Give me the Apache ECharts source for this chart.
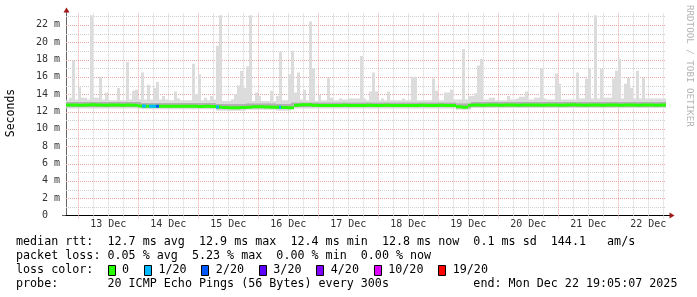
<!DOCTYPE html>
<html><head><meta charset="utf-8">
<script src="https://cdn.jsdelivr.net/npm/echarts@6/dist/echarts.min.js"></script>
<style>html,body{margin:0;padding:0;background:#fff}#c{width:697px;height:297px}</style>
</head><body><div id="c"></div>
<script>
// ---------------- data ----------------
// time is measured in hours since Fri 12 Dec 2025 00:00
const endHour = 240 + 19 + 5 / 60 + 7 / 3600;   // Mon Dec 22 19:05:07
const spanHours = 240;
const startHour = endHour - spanHours;

const dayLabels = ['13 Dec','14 Dec','15 Dec','16 Dec','17 Dec','18 Dec','19 Dec','20 Dec','21 Dec','22 Dec'];
const yTickValues = [0,2,4,6,8,10,12,14,16,18,20,22];

// upper edge of smoke (ms), 72-minute bins
const smokeHigh = [
 13.3,13.6,17.9,13.4,14.8,13.6,13.6,13.4,23.1,13.6,
 13.6,16.0,13.4,14.2,13.3,13.3,13.3,14.7,13.3,13.3,
 17.7,13.4,14.4,14.5,13.4,16.5,13.4,15.1,13.4,14.7,
 15.4,13.4,13.8,13.4,13.3,13.3,14.3,13.5,13.3,13.3,
 13.3,13.3,17.5,14.0,16.3,13.3,13.6,13.3,13.8,13.4,
 19.6,23.1,13.2,13.2,13.2,13.4,14.0,15.0,16.7,14.7,
 17.2,23.1,13.2,14.2,13.8,13.2,13.2,13.2,14.4,13.2,
 13.8,18.9,13.3,13.3,16.3,19.0,14.2,16.5,13.4,14.5,
 13.3,22.4,17.0,13.2,13.9,13.3,13.3,15.9,13.6,13.3,
 13.3,13.5,13.4,13.4,13.5,13.5,13.5,13.5,18.4,13.5,
 13.3,14.3,16.5,14.3,13.3,13.5,13.3,14.3,13.3,13.3,
 13.3,13.3,13.5,13.3,13.3,16.0,16.0,13.3,13.3,13.3,
 13.3,13.3,15.8,14.4,13.3,13.3,14.2,14.2,14.5,13.4,
 13.4,13.4,19.2,13.4,13.8,13.8,14.1,17.3,18.1,13.4,
 13.4,13.6,13.6,13.3,13.3,13.3,13.3,13.8,13.4,13.4,
 13.5,13.7,13.7,14.3,13.4,13.4,13.6,13.6,17.0,13.5,
 13.4,13.4,13.4,16.4,15.2,13.4,13.4,13.4,13.4,13.4,
 16.5,13.5,13.5,15.8,17.0,13.5,23.1,13.5,16.9,13.6,
 13.6,13.6,15.8,16.7,18.1,13.5,15.2,15.9,14.7,13.5,
 16.7,13.5,15.9,13.5,13.5,13.5,13.5,13.5,13.5,13.5
];
// 6-hour bins: lower smoke edge and dense core of the smoke
const smokeLow = [
 12.35,12.35,12.35,12.35,12.35,12.25,12.25,12.25,12.25,12.25,
 12.1,12.1,12.2,12.2,12.1,12.35,12.35,12.35,12.35,12.35,
 12.35,12.35,12.35,12.35,12.35,12.35,12.2,12.4,12.4,12.4,
 12.4,12.4,12.4,12.4,12.4,12.4,12.4,12.4,12.4,12.4
];
const coreLow = [
 12.5,12.5,12.5,12.5,12.5,12.42,12.42,12.42,12.42,12.42,
 12.25,12.25,12.35,12.35,12.28,12.5,12.5,12.5,12.5,12.5,
 12.5,12.5,12.5,12.5,12.5,12.5,12.35,12.52,12.52,12.52,
 12.52,12.52,12.52,12.52,12.52,12.52,12.52,12.52,12.52,12.52
];
const coreHigh = [
 13.1,13.1,13.1,13.1,13.1,13.0,13.0,13.0,13.0,13.0,
 12.88,12.88,12.95,12.95,12.88,13.08,13.08,13.08,13.08,13.08,
 13.08,13.08,13.08,13.08,13.08,13.08,12.95,13.1,13.1,13.1,
 13.1,13.1,13.1,13.1,13.1,13.1,13.1,13.1,13.1,13.1
];
// median rtt (ms), 144-minute bins
const medianRtt = [
 12.75,12.75,12.72,12.75,12.78,12.75,12.72,12.75,12.75,12.72,12.75,12.72,
 12.65,12.6,12.6,12.62,12.6,12.62,12.6,12.6,12.62,12.6,12.58,12.6,12.58,12.52,
 12.45,12.42,12.42,12.45,
 12.5,12.55,12.55,12.52,12.5,
 12.48,12.45,12.42,
 12.72,12.78,12.78,12.72,
 12.7,12.68,12.7,12.7,12.72,12.7,12.68,12.7,12.72,12.7,12.7,12.72,12.7,12.7,12.68,12.7,12.7,12.72,12.7,12.7,12.72,12.7,12.7,
 12.55,12.5,
 12.72,12.75,12.72,12.75,12.75,12.72,12.75,12.75,12.72,12.75,12.75,12.75,12.72,12.75,12.75,12.72,12.75,12.78,12.75,12.72,12.75,12.75,12.72,12.75,12.75,12.72,12.75,12.75,12.72,12.75,12.75,12.72,12.75
];
// packet-loss episodes (hours after start) and lost pings out of 20
const lossStartH = [30.4, 33.2, 36.0, 60.0, 85.2];
const lossEndH   = [32.0, 36.0, 37.2, 61.2, 86.0];
const lossLevel  = [1, 1, 2, 1, 1];

const lossKeys   = ['0','1/20','2/20','3/20','4/20','10/20','19/20'];
const lossCounts = [0, 1, 2, 3, 4, 10, 19];
const lossColors = ['#26ff00','#00b8ff','#0059ff','#5e00ff','#7e00ff','#dd00ff','#ff0000'];

const legendLine1 = 'median rtt:  12.7 ms avg  12.9 ms max  12.4 ms min  12.8 ms now  0.1 ms sd  144.1   am/s';
const legendLine2 = 'packet loss: 0.05 % avg  5.23 % max  0.00 % min  0.00 % now';
const legendLine3 = 'loss color:';
const legendLine4 = 'probe:       20 ICMP Echo Pings (56 Bytes) every 300s            end: Mon Dec 22 19:05:07 2025';

// ---------------- build ----------------
const MONO = '"DejaVu Sans Mono", "Liberation Mono", monospace';
const yMax = 23.33;
const smokeBin = spanHours / smokeHigh.length;
const coreBin = spanHours / smokeLow.length;
const medBin = spanHours / medianRtt.length;

const smokeRows = smokeHigh.map((h, i) => {
  const k = Math.floor((i + 0.5) * smokeBin / coreBin);
  return [startHour + i * smokeBin, startHour + (i + 1) * smokeBin, smokeLow[k], coreLow[k], coreHigh[k], h];
});
const medRows = medianRtt.map((m, i) => [startHour + i * medBin, startHour + (i + 1) * medBin, m, 0]);
const lossRows = lossStartH.map((s, i) => {
  const ts = startHour + s, te = startHour + lossEndH[i];
  const m = medianRtt[Math.min(medianRtt.length - 1, Math.floor(s / medBin))];
  return [ts, te, m, lossLevel[i]];
});

const midnightHours = [], quarterHours = [], dayLabelHours = [];
for (let k = 1; k <= dayLabels.length; k++) {
  midnightHours.push(24 * k);
  dayLabelHours.push(24 * k + 12);
}
for (let h = 0; h <= endHour; h += 6) {
  if (h > startHour && h % 24 !== 0) quarterHours.push(h);
}

function smokeItem(params, api) {
  const p0 = api.coord([api.value(0), api.value(2)]);
  const p1 = api.coord([api.value(1), api.value(3)]);
  const p2 = api.coord([api.value(1), api.value(4)]);
  const p3 = api.coord([api.value(1), api.value(5)]);
  const x0 = p0[0], w = p1[0] - p0[0];
  return { type: 'group', children: [
    { type: 'rect', shape: { x: x0, y: p1[1], width: w, height: p0[1] - p1[1] }, style: { fill: '#dcdcdc' } },
    { type: 'rect', shape: { x: x0, y: p2[1], width: w, height: p1[1] - p2[1] }, style: { fill: '#b2b2b2' } },
    { type: 'rect', shape: { x: x0, y: p3[1], width: w, height: p2[1] - p3[1] }, style: { fill: '#dcdcdc' } }
  ]};
}
function medItem(params, api) {
  const a = api.coord([api.value(0), api.value(2)]);
  const b = api.coord([api.value(1), api.value(2)]);
  const lvl = api.value(3);
  const ci = lossCounts.indexOf(lvl);
  return { type: 'rect', shape: { x: a[0], y: a[1] - 1.5, width: b[0] - a[0], height: 3 },
           style: { fill: lossColors[ci < 0 ? 0 : ci] } };
}
// grid lines drawn through the axes' scales (vertical ones poke 3px below the axis)
function gridItem(color, vertical) {
  return function (params, api) {
    const v = api.value(0);
    const cs = params.coordSys;
    if (vertical) {
      const x = Math.round(api.coord([v, 0])[0]) + 0.5;
      return { type: 'line', shape: { x1: x, y1: cs.y, x2: x, y2: cs.y + cs.height + 3 },
               style: { stroke: color, lineWidth: 1, lineDash: [1, 1] } };
    }
    const y = Math.round(api.coord([startHour, v])[1]) + 0.5;
    return { type: 'line', shape: { x1: cs.x, y1: y, x2: cs.x + cs.width, y2: y },
             style: { stroke: color, lineWidth: 1, lineDash: [1, 1] } };
  };
}
const minorY = [], majorY = [];
for (let v = 1; v < yMax; v++) (v % 2 ? minorY : majorY).push([v]);

// legend graphics
const CW = 7.05, LX = 16;
const lineY = [241.5, 255.5, 269.5, 283.5];
const legendFont = '11.7px ' + MONO;
function txt(s, x, y) {
  return { type: 'text', silent: true, x: x, y: y, style: { text: s, font: legendFont, fill: '#000',
    align: 'left', verticalAlign: 'middle' } };
}
const graphics = [
  txt(legendLine1, LX, lineY[0]),
  txt(legendLine2, LX, lineY[1]),
  txt(legendLine3, LX, lineY[2]),
  txt(legendLine4, LX, lineY[3])
];
let c = 13;
lossKeys.forEach((k, i) => {
  const bx = Math.round(LX + c * CW) + 0.5;
  graphics.push({ type: 'rect', silent: true, shape: { x: bx, y: Math.round(lineY[2] - 5) + 0.5, width: 7, height: 10 },
    style: { fill: lossColors[i], stroke: '#000', lineWidth: 1 } });
  const tc = c + 2.05;
  graphics.push(txt(k, LX + tc * CW, lineY[2]));
  c = tc + k.length + 2.1;
});
graphics.push({ type: 'text', silent: true, x: 11, y: 113, rotation: Math.PI / 2,
  style: { text: 'Seconds', font: '11.5px ' + MONO, fill: '#000', align: 'center', verticalAlign: 'middle' } });
graphics.push({ type: 'text', silent: true, x: 689, y: 5, rotation: -Math.PI / 2,
  style: { text: 'RRDTOOL / TOBI OETIKER', font: '9.2px ' + MONO, fill: '#b4b4b4', align: 'left', verticalAlign: 'middle' } });
graphics.push({ type: 'line', silent: true, shape: { x1: 66.5, y1: 14, x2: 66.5, y2: 10 }, style: { stroke: '#666', lineWidth: 1 } });
graphics.push({ type: 'polygon', silent: true, shape: { points: [[63.5, 12.5], [69.5, 12.5], [66.5, 7.5]] }, style: { fill: '#a01818' } });
graphics.push({ type: 'line', silent: true, shape: { x1: 666, y1: 215.5, x2: 671, y2: 215.5 }, style: { stroke: '#000', lineWidth: 1 } });
graphics.push({ type: 'polygon', silent: true, shape: { points: [[669.5, 212.5], [669.5, 218.5], [674.5, 215.5]] }, style: { fill: '#a01818' } });
graphics.push({ type: 'line', silent: true, shape: { x1: 62, y1: 215.5, x2: 66, y2: 215.5 }, style: { stroke: '#666', lineWidth: 1 } });

const option = {
  animation: false,
  backgroundColor: '#ffffff',
  grid: { left: 66, right: 31, top: 13.33, bottom: 81.5 },
  xAxis: {
    type: 'value', min: startHour, max: endHour,
    axisLine: { show: true, onZero: false, lineStyle: { color: '#000', width: 1 } },
    axisTick: { show: false },
    splitLine: { show: false },
    axisLabel: { customValues: dayLabelHours, hideOverlap: false, margin: 4,
      fontFamily: MONO, fontSize: 10, color: '#333',
      formatter: function (v) {
        const i = dayLabelHours.indexOf(v);
        return i < 0 ? '' : dayLabels[i];
      } }
  },
  yAxis: {
    type: 'value', min: 0, max: yMax, interval: 2,
    axisLine: { show: true, lineStyle: { color: '#666' } },
    axisTick: { show: false },
    splitLine: { show: false },
    axisLabel: { margin: 6, fontFamily: MONO, fontSize: 10, color: '#333', showMaxLabel: false,
      formatter: function (v) {
        if (yTickValues.indexOf(v) < 0) return '';
        return v === 0 ? '0  ' : v + ' m';
      } }
  },
  series: [
    { type: 'custom', silent: true, z: 1, renderItem: gridItem('#cfcfcf', true), encode: { x: 0 }, data: quarterHours.map(h => [h]) },
    { type: 'custom', silent: true, z: 1, renderItem: gridItem('#cfcfcf', false), encode: { y: 0 }, data: minorY },
    { type: 'custom', silent: true, z: 1, renderItem: gridItem('#e9a3a3', true), encode: { x: 0 }, data: midnightHours.map(h => [h]) },
    { type: 'custom', silent: true, z: 1, renderItem: gridItem('#e9a3a3', false), encode: { y: 0 }, data: majorY },
    { type: 'custom', name: 'smoke', clip: true, z: 2,
      renderItem: smokeItem, encode: { x: [0, 1], y: [2, 3, 4, 5] }, data: smokeRows },
    { type: 'custom', name: 'median', clip: true, z: 3,
      renderItem: medItem, encode: { x: [0, 1], y: [2] }, data: medRows },
    { type: 'custom', name: 'loss', clip: true, z: 4,
      renderItem: medItem, encode: { x: [0, 1], y: [2] }, data: lossRows }
  ],
  graphic: graphics
};
const chart = echarts.init(document.getElementById('c'), null, { renderer: 'canvas' });
chart.setOption(option);
</script>
</body></html>
